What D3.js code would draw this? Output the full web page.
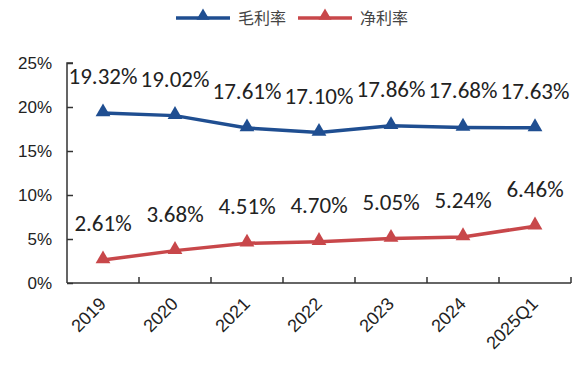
<!DOCTYPE html>
<html><head><meta charset="utf-8">
<script src="https://cdn.jsdelivr.net/npm/d3@7"></script>
<style>body{margin:0;background:#fff}</style>
</head><body>
<svg id="c" width="579" height="369"></svg>
<script>
const categories = ["2019","2020","2021","2022","2023","2024","2025Q1"];
const grossMargin = [19.32,19.02,17.61,17.10,17.86,17.68,17.63];
const netMargin = [2.61,3.68,4.51,4.70,5.05,5.24,6.46];
const yTicks = [0,5,10,15,20,25];
const seriesNames = ["毛利率","净利率"];
const colors = ["#1F4E91","#C8474A"];

const svg = d3.select("#c");
const left = 67, right = 571;
const x = d3.scaleBand().domain(categories).range([left, right]);
const y = d3.scaleLinear().domain([0,25]).range([283, 63]);
const labelFont = "Carlito, Calibri, 'Liberation Sans', sans-serif";
const axisFont = "'Liberation Sans', Arial, sans-serif";

// y axis
const yAxis = d3.axisLeft(y).tickValues(yTicks).tickSize(-6).tickPadding(15).tickFormat(d=>d+"%");
const gy = svg.append("g").attr("transform",`translate(${left},0)`).call(yAxis);
gy.select(".domain").attr("stroke","#333").attr("stroke-width",1.5).attr("d",`M6,${y(25)}H0V${y(0)}`);
gy.selectAll(".tick line").attr("stroke","#333").attr("stroke-width",1.5);
gy.selectAll("text").attr("font-family",axisFont).attr("font-size",17).attr("fill","#222");

// x axis
const xAxis = d3.axisBottom(x).tickSize(0).tickFormat(d=>d);
const gx = svg.append("g").attr("transform",`translate(0,${y(0)})`).call(xAxis);
gx.select(".domain").attr("stroke","#333").attr("stroke-width",1.5).attr("d",`M${left},0H${right}`);
gx.selectAll("text").attr("font-family",axisFont).attr("font-size",18).attr("fill","#222")
  .attr("text-anchor","end").attr("dy",0).attr("dx",0).attr("y",0).attr("x",0)
  .attr("transform","translate(4,22) rotate(-45)");
const bounds = categories.map(c=>x(c)+x.bandwidth());
gx.selectAll(".bt").data(bounds).enter().append("line")
  .attr("x1",d=>d).attr("x2",d=>d).attr("y1",0).attr("y2",-6)
  .attr("stroke","#333").attr("stroke-width",1.5);

const cx = d=>x(d)+x.bandwidth()/2;
const tri = d3.symbol().type(d3.symbolTriangle).size(95);

[grossMargin, netMargin].forEach((vals,i)=>{
  const data = categories.map((c,j)=>({c, v:vals[j]}));
  const line = d3.line().x(d=>cx(d.c)).y(d=>y(d.v));
  svg.append("path").datum(data).attr("d",line).attr("fill","none")
    .attr("stroke",colors[i]).attr("stroke-width",3.5);
  svg.selectAll(".p"+i).data(data).enter().append("path")
    .attr("d",tri).attr("transform",d=>`translate(${cx(d.c)},${y(d.v)-1})`)
    .attr("fill",colors[i]);
  svg.selectAll(".l"+i).data(data).enter().append("text")
    .attr("x",d=>cx(d.c)).attr("y",d=>y(d.v)-29)
    .attr("text-anchor","middle").attr("font-family",labelFont).attr("font-size",23)
    .attr("fill","#222").text(d=>d.v.toFixed(2)+"%");
});

// legend
const lg = svg.append("g");
const items = [{x:176, name:seriesNames[0], c:colors[0]},{x:298, name:seriesNames[1], c:colors[1]}];
items.forEach(it=>{
  lg.append("line").attr("x1",it.x).attr("x2",it.x+54).attr("y1",18).attr("y2",18)
    .attr("stroke",it.c).attr("stroke-width",3.5);
  lg.append("path").attr("d",d3.symbol().type(d3.symbolTriangle).size(75)())
    .attr("transform",`translate(${it.x+27},16)`).attr("fill",it.c);
  lg.append("text").attr("x",it.x+62).attr("y",24).attr("font-family","'Noto Sans CJK SC', sans-serif")
    .attr("font-size",16).attr("fill","#444").text(it.name);
});
</script>
</body></html>
